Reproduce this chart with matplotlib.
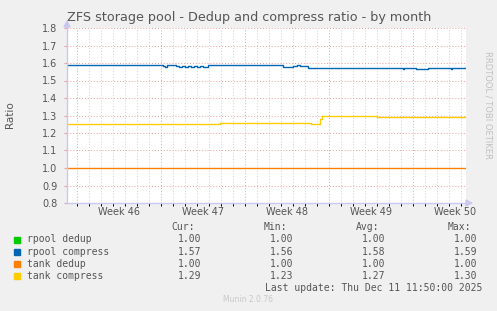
import matplotlib
matplotlib.use("Agg")
import matplotlib.pyplot as plt

# days since Monday of week 46 (step points, value holds until next point)
rpool_dedup_x = [-0.83, 32.42]
rpool_dedup_y = [1.00, 1.00]

rpool_compress_x = [-0.83, 7.17, 7.33, 7.5, 8.25, 8.5, 8.75, 9.0, 9.25, 9.5, 9.75, 10.0, 10.25, 10.5, 10.9,
                    17.17, 18.0, 18.33, 18.6, 19.25, 27.17, 27.25, 28.25, 29.25, 31.17, 31.25, 32.42]
rpool_compress_y = [1.59, 1.585, 1.58, 1.59, 1.585, 1.58, 1.585, 1.58, 1.585, 1.58, 1.585, 1.58, 1.585, 1.58, 1.59,
                    1.58, 1.585, 1.59, 1.585, 1.57, 1.565, 1.57, 1.563, 1.57, 1.566, 1.57, 1.57]

tank_dedup_x = [-0.83, 32.42]
tank_dedup_y = [1.00, 1.00]

tank_compress_x = [-0.83, 11.9, 17.25, 17.4, 19.5, 20.25, 20.4, 23.9, 24.0, 25.0, 32.42]
tank_compress_y = [1.25, 1.26, 1.257, 1.26, 1.25, 1.28, 1.30, 1.297, 1.30, 1.29, 1.29]

series = [
    ("rpool dedup", "#00CC00", rpool_dedup_x, rpool_dedup_y, "1.00", "1.00", "1.00", "1.00"),
    ("rpool compress", "#0066B3", rpool_compress_x, rpool_compress_y, "1.57", "1.56", "1.58", "1.59"),
    ("tank dedup", "#FF8000", tank_dedup_x, tank_dedup_y, "1.00", "1.00", "1.00", "1.00"),
    ("tank compress", "#FFCC00", tank_compress_x, tank_compress_y, "1.29", "1.23", "1.27", "1.30"),
]

week_labels = ["Week 46", "Week 47", "Week 48", "Week 49", "Week 50"]
y_ticks = [0.8, 0.9, 1.0, 1.1, 1.2, 1.3, 1.4, 1.5, 1.6, 1.7, 1.8]

W, H = 497, 311
fig = plt.figure(figsize=(W / 100, H / 100), dpi=100, facecolor="#F0F0F0")
ax = fig.add_axes([67 / W, (H - 203) / H, (466 - 67) / W, (203 - 28) / H])
ax.set_facecolor("white")
ax.set_xlim(-0.83, 32.42)
ax.set_ylim(0.8, 1.8)

red = "#E8A0A0"
grey = "#D0D0D0"

# grid
for d in range(0, 33):
    col = red if d % 7 == 0 else grey
    ax.axvline(d, color=col, lw=0.7, linestyle=(0, (1, 2)), zorder=1)
for v in y_ticks:
    ax.axhline(v, color=red, lw=0.7, linestyle=(0, (1, 2)), zorder=1)

for name, color, xs, ys, *_ in series:
    lw = 0.6 if name == "rpool dedup" else 1.0
    ax.step(xs, ys, where="post", color=color, lw=lw, zorder=3)

for s in ax.spines.values():
    s.set_visible(False)

ax.set_yticks(y_ticks)
ax.set_yticklabels(["%.1f" % v for v in y_ticks])
ax.set_xticks([3.5 + 7 * i for i in range(len(week_labels))])
ax.set_xticklabels(week_labels)
ax.set_xticks(range(0, 33), minor=True)
ax.tick_params(axis="both", which="major", length=0, labelsize=7, colors="#555555")
ax.tick_params(axis="y", which="major", length=2, color=red, pad=5)
ax.tick_params(axis="x", which="major", pad=3)
ax.tick_params(axis="x", which="minor", length=2, width=0.7)
for d, t in zip(range(0, 33), ax.xaxis.get_minor_ticks()):
    t.tick1line.set_color(red if d % 7 == 0 else grey)

# axes with arrows
axis_col = "#C8C8F0"
fig.add_artist(plt.Line2D([67 / W, 467 / W], [(H - 203) / H] * 2, color=axis_col, lw=1))
fig.add_artist(plt.Line2D([67 / W] * 2, [(H - 203) / H, (H - 26) / H], color=axis_col, lw=1))
fig.add_artist(plt.Polygon([[466 / W, (H - 200) / H], [466 / W, (H - 206) / H], [472 / W, (H - 203) / H]],
                           closed=True, color=axis_col, transform=fig.transFigure))
fig.add_artist(plt.Polygon([[64 / W, (H - 27) / H], [70 / W, (H - 27) / H], [67 / W, (H - 21) / H]],
                           closed=True, color=axis_col, transform=fig.transFigure))

fig.text(249 / W, 1 - 18 / H, "ZFS storage pool - Dedup and compress ratio - by month",
         ha="center", va="center", fontsize=9.2, color="#555555")
fig.text(10 / W, 1 - 115 / H, "Ratio", rotation=90, ha="center", va="center", fontsize=7.5, color="#555555")
fig.text(488 / W, 1 - 105 / H, "RRDTOOL / TOBI OETIKER", rotation=270, ha="center", va="center",
         fontsize=6, color="#C0C0C0")

# legend table
mono = dict(family="DejaVu Sans Mono", fontsize=7, color="#555555", va="center")
cols = [201, 293, 385, 477]
for cx, hdr in zip(cols, ["Cur:", "Min:", "Avg:", "Max:"]):
    fig.text((cx - 6) / W, 1 - 227.5 / H, hdr, ha="right", **mono)
for i, (name, color, xs, ys, cur, mn, avg, mx) in enumerate(series):
    yy = 239.5 + 12.1 * i
    fig.add_artist(plt.Rectangle((14 / W, 1 - (yy + 3) / H), 6 / W, 6 / H, color=color,
                                 transform=fig.transFigure))
    fig.text(27 / W, 1 - yy / H, name, ha="left", **mono)
    for cx, val in zip(cols, [cur, mn, avg, mx]):
        fig.text(cx / W, 1 - yy / H, val, ha="right", **mono)
fig.text(482 / W, 1 - 288 / H, "Last update: Thu Dec 11 11:50:00 2025", ha="right", **mono)
fig.text(248 / W, 1 - 300 / H, "Munin 2.0.76", ha="center", va="center", fontsize=5.5, color="#C8C8C8")

fig.savefig("out.png", dpi=100, facecolor=fig.get_facecolor())
